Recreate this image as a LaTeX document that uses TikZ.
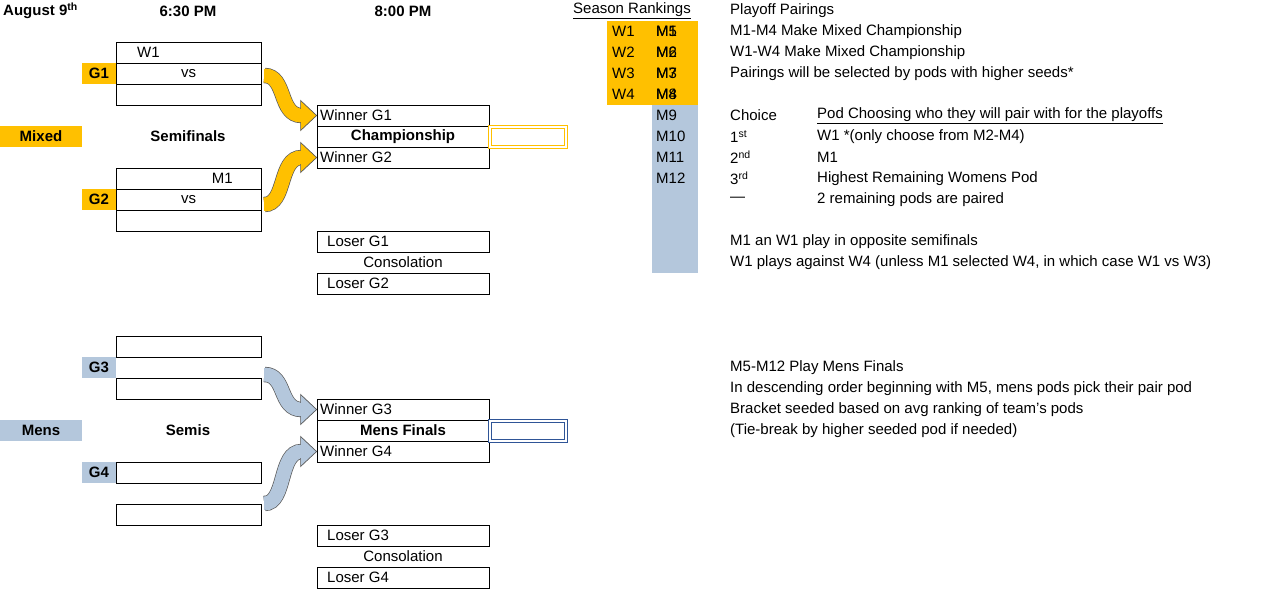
\documentclass[tikz,border=0pt]{standalone}
\usepackage{fontspec}
\setmainfont{Liberation Sans}
\usetikzlibrary{calc}
\definecolor{gold}{HTML}{FFC000}
\definecolor{steel}{HTML}{B4C7DC}
\definecolor{dblue}{HTML}{2F5597}
\begin{document}
\begin{tikzpicture}[x=1pt,y=-1pt,
  every node/.style={font=\fontsize{15}{18}\selectfont, inner sep=0pt},
  cbox/.style={draw, line width=0.8pt, minimum width=145pt, minimum height=21pt},
  ebox/.style={draw, line width=0.8pt, minimum width=172pt, minimum height=21pt},
  lbl/.style={font=\fontsize{15}{18}\selectfont\bfseries, minimum height=21pt},
  txt/.style={anchor=west},
  band/.style={line width=0.7pt, draw=gray!70!black, double distance=14pt},
  head/.style={draw=gray!70!black, line width=0.7pt}]
\useasboundingbox (0,0) rectangle (1285,598);
% header
\node[txt,font=\fontsize{15}{18}\selectfont\bfseries] (aug) at (3,11) {August 9\textsuperscript{th}};
\node[font=\fontsize{15}{18}\selectfont\bfseries] (t630) at (188,11) {6:30 PM};
\node[font=\fontsize{15}{18}\selectfont\bfseries] (t800) at (403,11) {8:00 PM};
% mixed section
\node[lbl, fill=gold, minimum width=82pt] (mixed) at (41,136.5) {Mixed};
\node[lbl] (semi) at (188,136.5) {Semifinals};
\node[lbl, fill=gold, minimum width=34pt] (g1) at (99,73.5) {G1};
\node[lbl, fill=gold, minimum width=34pt] (g2) at (99,199.5) {G2};
\node[cbox] (b3) at (188.5,52.5) {};
\node[txt] (w1t) at (137,52.5) {W1};
\node[cbox] (b4) at (188.5,73.5) {vs};
\node[cbox] (b5) at (188.5,94.5) {};
\node[cbox] (b9) at (188.5,178.5) {};
\node[anchor=east] (m1t) at (233,178.5) {M1};
\node[cbox] (b10) at (188.5,199.5) {vs};
\node[cbox] (b11) at (188.5,220.5) {};
\node[ebox] (wg1) at (403,115.5) {};
\node[txt] at (320,115.5) {Winner G1};
\node[ebox, font=\fontsize{15}{18}\selectfont\bfseries] (champ) at (403,136.5) {Championship};
\node[ebox] (wg2) at (403,157.5) {};
\node[txt] at (320,157.5) {Winner G2};
\draw[gold, line width=0.9pt, double=white, double distance=1.6pt] (490,127) rectangle (566,147);
\node[ebox] (lg1) at (403,241.5) {};
\node[txt] at (327,241.5) {Loser G1};
\node (cons1) at (403,262.5) {Consolation};
\node[ebox] (lg2) at (403,283.5) {};
\node[txt] at (327,283.5) {Loser G2};
% mens section
\node[lbl, fill=steel, minimum width=82pt] (mens) at (41,430.5) {Mens};
\node[lbl] (semis) at (188,430.5) {Semis};
\node[lbl, fill=steel, minimum width=34pt] (g3) at (99,367.5) {G3};
\node[lbl, fill=steel, minimum width=34pt] (g4) at (99,472.5) {G4};
\node[cbox] (b17) at (188.5,346.5) {};
\node[cbox] (b19) at (188.5,388.5) {};
\node[cbox] (b23) at (188.5,472.5) {};
\node[cbox] (b25) at (188.5,514.5) {};
\node[ebox] (wg3) at (403,409.5) {};
\node[txt] at (320,409.5) {Winner G3};
\node[ebox, font=\fontsize{15}{18}\selectfont\bfseries] (mfin) at (403,430.5) {Mens Finals};
\node[ebox] (wg4) at (403,451.5) {};
\node[txt] at (320,451.5) {Winner G4};
\draw[dblue, line width=0.9pt, double=white, double distance=1.6pt] (490,421) rectangle (566,441);
\node[ebox] (lg3) at (403,535.5) {};
\node[txt] at (327,535.5) {Loser G3};
\node (cons2) at (403,556.5) {Consolation};
\node[ebox] (lg4) at (403,577.5) {};
\node[txt] at (327,577.5) {Loser G4};
% arrows
\coordinate (s1) at ($(b4.east)+(3,2)$);
\coordinate (s2) at ($(b10.east)+(3,5)$);
\coordinate (s3) at ($(b19.east)+(3,-14)$);
\coordinate (s4) at ($(b25.east)+(3,-11)$);
\foreach \s/\t/\c in {s1/wg1/gold, s2/wg2/gold, s3/wg3/steel, s4/wg4/steel}{
  \path let \p1=(\s), \p2=(\t.west) in
    coordinate (hb) at (\x2-16,\y2)
    coordinate (c1) at (\x1+22,\y1)
    coordinate (c2) at (\x2-38,\y2);
  \draw[band, double=\c] (\s) .. controls (c1) and (c2) .. ($(hb)+(1,0)$);
  \fill[\c] ($(\s)+(0,-6.5)$) rectangle ($(\s)+(1,6.5)$);
  \draw[head, fill=\c] ($(hb)+(0,-15)$) -- (\t.west) -- ($(hb)+(0,15)$) -- cycle;
  \draw[\c, line width=13.5pt] ($(hb)+(-1,0)$) -- ($(hb)+(0.6,0)$);
}
% rankings
\fill[gold] (607,21) rectangle (698,105);
\fill[steel] (652,105) rectangle (698,273);
\node (sr) at (632,11) {\underline{Season Rankings}};
\foreach \i [evaluate=\i as \yy using 21*\i+10.5] in {1,...,4}{
  \node[txt] (rw\i) at (612,\yy) {W\i};
  \node[txt] (rm\i) at (656,\yy) {M\i};
}
\foreach \i [evaluate=\i as \yy using 21*(\i-4)+10.5] in {5,...,12}{
  \node[txt] (rm\i) at (656,\yy) {M\i};
}
\node[txt] (pp) at (730,10.5) {Playoff Pairings};
\node[txt] (p1) at (730,31.5) {M1-M4 Make Mixed Championship};
\node[txt] (p2) at (730,52.5) {W1-W4 Make Mixed Championship};
\node[txt] (p3) at (730,73.5) {Pairings will be selected by pods with higher seeds*};
\node[txt] (ch) at (730,115.5) {Choice};
\node[txt] (pc) at (817,115.5) {\underline{Pod Choosing who they will pair with for the playoffs}};
\node[txt] (c1t) at (730,136.5) {1\textsuperscript{st}};
\node[txt] (c1d) at (817,136.5) {W1 *(only choose from M2-M4)};
\node[txt] (c2t) at (730,157.5) {2\textsuperscript{nd}};
\node[txt] (c2d) at (817,157.5) {M1};
\node[txt] (c3t) at (730,178.5) {3\textsuperscript{rd}};
\node[txt] (c3d) at (817,178.5) {Highest Remaining Womens Pod};
\node[txt] (c4t) at (730,199.5) {---};
\node[txt] (c4d) at (817,199.5) {2 remaining pods are paired};
\node[txt] (n1) at (730,241.5) {M1 an W1 play in opposite semifinals};
\node[txt] (n2) at (730,262.5) {W1 plays against W4 (unless M1 selected W4, in which case W1 vs W3)};
\node[txt] (m1) at (730,367.5) {M5-M12 Play Mens Finals};
\node[txt] (m2) at (730,388.5) {In descending order beginning with M5, mens pods pick their pair pod};
\node[txt] (m3) at (730,409.5) {Bracket seeded based on avg ranking of team’s pods};
\node[txt] (m4) at (730,430.5) {(Tie-break by higher seeded pod if needed)};
\end{tikzpicture}
\end{document}
